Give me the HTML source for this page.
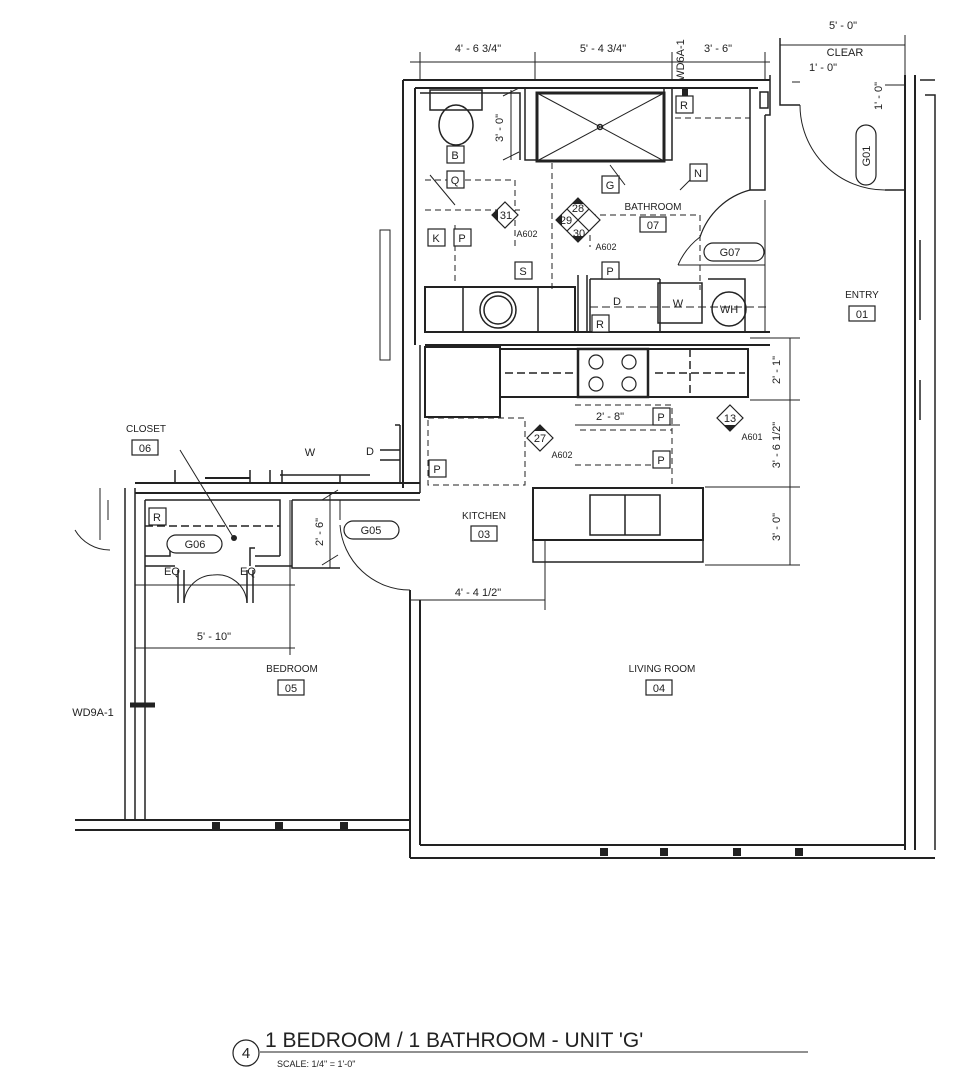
<!DOCTYPE html>
<html><head><meta charset="utf-8"><style>
html,body{margin:0;padding:0;background:#fff;}
svg{display:block;}
text{font-family:"Liberation Sans",sans-serif;fill:#222;}
</style></head><body>
<svg width="979" height="1080" viewBox="0 0 979 1080" xmlns="http://www.w3.org/2000/svg">
<g fill="none" stroke="#222" stroke-width="1.5">
<path d="M403 80 H770 M415 88 H758" stroke-width="2"/>
<path d="M403 80 V488 M415 88 V345" stroke-width="2"/>
<rect x="380" y="230" width="10" height="130" stroke-width="1"/>
<path d="M750 88 V190 H765 V115 M765 115 H770 V75" stroke-width="1.5"/>
<rect x="760" y="92" width="8" height="16"/>
<path d="M780 75 V105 H800 M780 38 V75" />
<path d="M905 75 V850 M915 75 V850" stroke-width="2"/>
<path d="M920 80 H935 M925 95 H935 V850" stroke-width="1.5"/>
<path d="M920 380 V420 M920 240 V320"/>
<path d="M800 105 A85 85 0 0 0 885 190" stroke-width="1"/>
<path d="M885 190 H905" />
<path d="M410 858 H935 M420 845 H905" stroke-width="2"/>
<path d="M410 590 V858 M420 600 V845" stroke-width="2"/>
<path d="M125 488 V820 M135 488 V820 M145 500 V820" stroke-width="1.5"/>
<path d="M75 820 H410 M75 830 H410" stroke-width="2"/>
<path d="M135 483 H420 M135 493 H420" stroke-width="2"/>
<path d="M420 345 V493"/>
<path d="M145 500 H280 V556 M292 500 V568 H340 M292 500 H420"/>
<path d="M145 556 H170 V548 M145 566 H175 M255 556 H280 M250 566 V548 H255 M255 566 H292"/>
<path d="M145 526 H280" stroke-dasharray="8 4"/>
<path d="M178 570 V603 M184 570 V603 M253 570 V603 M247 570 V603"/>
<path d="M184 603 A30 30 0 0 1 213 575 M247 603 A30 30 0 0 0 213 575" stroke-width="1"/>
<path d="M100 488 V540 M108 500 V520 M75 530 A40 40 0 0 0 110 550" stroke-width="1"/>
<path d="M175 470 V483 M250 470 V483 M270 470 V483 M282 470 V483 M280 475 H370 M340 475 V483 M400 425 V483 M395 425 H400 M380 450 H400 M380 460 H400"/>
<path d="M205 478 H250" stroke-width="2"/>
<rect x="537" y="93" width="127" height="68" stroke-width="3"/>
<path d="M537 93 L664 161 M664 93 L537 161" stroke-width="1"/>
<circle cx="600" cy="127" r="2.5"/>
<path d="M525 88 V160 H537 M664 88 V160 H672 V88"/>
<path d="M420 93 H520 V160 M430 90 H482 V110 H430 Z"/>
<ellipse cx="456" cy="125" rx="17" ry="20"/>
<path d="M425 180 H515 V250" stroke-dasharray="6 4" stroke-width="1"/>
<path d="M425 210 H520 M455 225 V285 M552 163 V290 M590 215 V247 M590 215 H700 V290 M675 118 H750" stroke-dasharray="6 4" stroke-width="1"/>
<rect x="425" y="287" width="150" height="45" stroke-width="2"/>
<path d="M463 287 V332 M538 287 V332"/>
<circle cx="498" cy="310" r="18"/>
<circle cx="498" cy="310" r="14"/>
<path d="M578 275 V332 M587 275 V332 M590 279 H660 M590 279 V332 M660 279 V332 M708 279 H745 V332"/>
<path d="M700 237 A70 70 0 0 0 678 265 M678 265 H765 M765 200 V332" stroke-width="1"/>
<path d="M700 237 A72 72 0 0 1 750 190" stroke-width="1.2"/>
<rect x="658" y="283" width="44" height="40"/>
<circle cx="729" cy="309" r="17"/>
<path d="M590 307 H770" stroke-dasharray="8 4" stroke-width="1"/>
<path d="M425 332 H770 M425 345 H770" stroke-width="2"/>
<rect x="425" y="347" width="75" height="70" stroke-width="2"/>
<rect x="500" y="349" width="248" height="48" stroke-width="2"/>
<rect x="578" y="349" width="70" height="48" stroke-width="2.5"/>
<g stroke-width="1.2"><circle cx="596" cy="362" r="7"/><circle cx="629" cy="362" r="7"/><circle cx="596" cy="384" r="7"/><circle cx="629" cy="384" r="7"/></g>
<path d="M690 349 V397 M505 373 H575 M655 373 H745" stroke-dasharray="8 4"/>
<path d="M428 418 H525 V485 H428 Z M575 405 H672 V485 M575 465 H670 M580 430 H672" stroke-dasharray="6 4" stroke-width="1"/>
<rect x="533" y="488" width="170" height="52" stroke-width="2"/>
<rect x="533" y="540" width="170" height="22"/>
<rect x="590" y="495" width="70" height="40"/>
<path d="M625 495 V535"/>
<path d="M340 525 A70 70 0 0 0 410 590 M340 520 V500" stroke-width="1"/>
<path d="M130 705 H155" stroke-width="5"/>
<path d="M685 88 V100" stroke-width="6"/>
</g>
<g fill="none" stroke="#222" stroke-width="1">
<path d="M410 62 H770 M420 52 V80 M535 52 V80 M672 52 V80 M765 52 V80"/>
<path d="M780 45 H905 M905 35 V75"/>
<path d="M792 82 H800 M885 85 H905"/>
<path d="M511 90 V160 M503 96 L519 88 M503 160 L519 152"/>
<path d="M750 338 H800 M750 400 H800 M705 487 H800 M705 565 H800 M790 338 V565"/>
<path d="M575 425 H680"/>
<path d="M330 493 V568 M322 500 L338 490 M322 565 L338 555"/>
<path d="M410 600 H545 M545 540 V610"/>
<path d="M135 585 H295 M135 648 H295 M290 500 V655"/>
<path d="M430 175 L455 205 M700 170 L680 190 M610 165 L625 185"/>
<path d="M180 450 L233 537"/>
</g>
<g fill="#222"><circle cx="234" cy="538" r="3"/>
<path d="M600 848 h8 v8 h-8z M660 848 h8 v8 h-8z M733 848 h8 v8 h-8z M795 848 h8 v8 h-8z M212 822 h8 v8 h-8z M275 822 h8 v8 h-8z M340 822 h8 v8 h-8z"/></g>
<g fill="#fff" stroke="#222" stroke-width="1.2">
<rect x="447" y="146" width="17" height="17"/><rect x="447" y="171" width="17" height="17"/>
<rect x="428" y="229" width="17" height="17"/><rect x="454" y="229" width="17" height="17"/>
<rect x="515" y="262" width="17" height="17"/><rect x="602" y="176" width="17" height="17"/>
<rect x="690" y="164" width="17" height="17"/><rect x="676" y="96" width="17" height="17"/>
<rect x="602" y="262" width="17" height="17"/><rect x="592" y="315" width="17" height="17"/>
<rect x="429" y="460" width="17" height="17"/><rect x="653" y="408" width="17" height="17"/>
<rect x="653" y="451" width="17" height="17"/><rect x="149" y="508" width="17" height="17"/>
<rect x="640" y="217" width="26" height="15"/><rect x="849" y="306" width="26" height="15"/>
<rect x="132" y="440" width="26" height="15"/><rect x="471" y="526" width="26" height="15"/>
<rect x="278" y="680" width="26" height="15"/><rect x="646" y="680" width="26" height="15"/>
<rect x="704" y="243" width="60" height="18" rx="9"/>
<rect x="856" y="125" width="20" height="60" rx="10"/>
<rect x="167" y="535" width="55" height="18" rx="9"/>
<rect x="344" y="521" width="55" height="18" rx="9"/>
<path d="M505 202 l13 13 -13 13 -13 -13z"/>
<path d="M578 198 l22 22 -22 22 -22 -22z M567 209 l22 22 M589 209 l-22 22"/>
<path d="M540 425 l13 13 -13 13 -13 -13z"/>
<path d="M730 405 l13 13 -13 13 -13 -13z"/>
<circle cx="246" cy="1053" r="13"/>
</g>
<path d="M492 215 l6 -6 v12z M540 425 l-6 6 h12z M730 431 l-6 -6 h12z M578 198 l-6 6 h12z M556 220 l6 -6 v12z M578 242 l-6 -6 h12z" fill="#222"/>
<path d="M260 1052 H808" stroke="#222" stroke-width="1"/>
<g font-size="11" text-anchor="middle">
<text x="478" y="52">4' - 6 3/4"</text><text x="603" y="52">5' - 4 3/4"</text><text x="718" y="52">3' - 6"</text>
<text x="843" y="29">5' - 0"</text><text x="845" y="56">CLEAR</text><text x="823" y="71">1' - 0"</text>
<text x="455" y="159">B</text><text x="455" y="184">Q</text><text x="436" y="242">K</text><text x="462" y="242">P</text>
<text x="523" y="275">S</text><text x="610" y="189">G</text><text x="698" y="177">N</text><text x="684" y="109">R</text>
<text x="610" y="275">P</text><text x="600" y="328">R</text><text x="617" y="305">D</text><text x="678" y="307">W</text>
<text x="729" y="313">WH</text><text x="730" y="256">G07</text><text x="653" y="210" font-size="10">BATHROOM</text>
<text x="653" y="229">07</text><text x="506" y="219">31</text><text x="527" y="237" font-size="9">A602</text>
<text x="578" y="212">28</text><text x="566" y="224">29</text><text x="579" y="237">30</text><text x="606" y="250" font-size="9">A602</text>
<text x="862" y="298" font-size="10">ENTRY</text><text x="862" y="318">01</text>
<text x="540" y="442">27</text><text x="562" y="458" font-size="9">A602</text>
<text x="730" y="422">13</text><text x="752" y="440" font-size="9">A601</text>
<text x="610" y="420">2' - 8"</text><text x="661" y="421">P</text><text x="661" y="464">P</text><text x="437" y="473">P</text>
<text x="146" y="432" font-size="10">CLOSET</text><text x="145" y="452">06</text>
<text x="310" y="456">W</text><text x="370" y="455">D</text><text x="157" y="521">R</text>
<text x="195" y="548">G06</text><text x="371" y="534">G05</text>
<text x="172" y="575">EQ</text><text x="248" y="575">EQ</text>
<text x="484" y="519" font-size="10">KITCHEN</text><text x="484" y="538">03</text>
<text x="478" y="596">4' - 4 1/2"</text><text x="214" y="640">5' - 10"</text>
<text x="292" y="672" font-size="10">BEDROOM</text><text x="291" y="692">05</text>
<text x="662" y="672" font-size="10">LIVING ROOM</text><text x="659" y="692">04</text>
<text x="93" y="716">WD9A-1</text>
<text x="246" y="1058" font-size="15">4</text>
</g>
<g font-size="11" text-anchor="middle">
<text transform="translate(503 128) rotate(-90)">3' - 0"</text>
<text transform="translate(323 532) rotate(-90)">2' - 6"</text>
<text transform="translate(780 370) rotate(-90)">2' - 1"</text>
<text transform="translate(780 445) rotate(-90)">3' - 6 1/2"</text>
<text transform="translate(780 527) rotate(-90)">3' - 0"</text>
<text transform="translate(882 96) rotate(-90)">1' - 0"</text>
<text transform="translate(870 156) rotate(-90)">G01</text>
<text transform="translate(684 60) rotate(-90)">WD6A-1</text>
</g>
<text x="265" y="1047" font-size="21">1 BEDROOM / 1 BATHROOM - UNIT 'G'</text>
<text x="277" y="1067" font-size="9">SCALE:  1/4" = 1'-0"</text>
</svg>
</body></html>
